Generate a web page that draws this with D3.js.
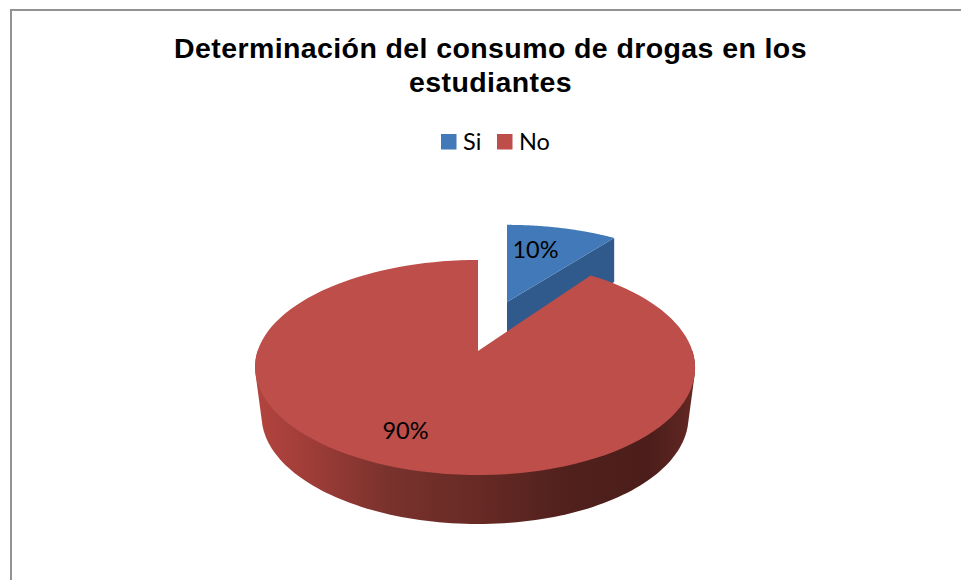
<!DOCTYPE html>
<html>
<head>
<meta charset="utf-8">
<script src="https://cdnjs.cloudflare.com/ajax/libs/d3/7.8.5/d3.min.js"></script>
<style>
  html, body { margin: 0; padding: 0; background: #fff; }
  svg { display: block; }
</style>
</head>
<body>
<svg id="chart" width="961" height="580"></svg>
<script>
const titleLines = ["Determinación del consumo de drogas en los", "estudiantes"];
const categories = ["Si", "No"];
const percentages = [10, 90];
const faceColors = ["#427ab9", "#bd4e4a"];
const wallColors = ["#30598c", "#6b2a26"];

const svg = d3.select("#chart");
const color = d3.scaleOrdinal(categories, faceColors);
const wall = d3.scaleOrdinal(categories, wallColors);
const slices = d3.pie().sort(null).value(d => d.value)(
  categories.map((name, i) => ({ name, value: percentages[i] }))
);

// Perspective projection of a unit disc lying flat: the far edge is foreshortened.
const tilt = 0.1535;
function disc(cx, cy, rx, ry, shiftX) {
  return (angle, r = 1) => {
    const u = Math.sin(angle) * r, v = Math.cos(angle) * r;
    const w = 1 + tilt * v;
    return [cx + rx * u / w - shiftX * u * u, cy - ry * v / w];
  };
}
const project = {
  No: disc(478, 351, 217.4, 105, 3),
  Si: disc(507, 302, 205, 89, 0)
};
const line = d3.line();
const arcPoints = (fn, a0, a1) =>
  d3.range(0, 121).map(i => fn(a0 + (a1 - a0) * i / 120));

// Frame of the chart area
svg.append("path")
  .attr("d", "M11,580V10H961")
  .attr("fill", "none")
  .attr("stroke", "#929292")
  .attr("stroke-width", 2);

// Title
svg.append("g").selectAll("text").data(titleLines).join("text")
  .attr("x", 490.5)
  .attr("y", (d, i) => 58 + i * 33.5)
  .attr("text-anchor", "middle")
  .attr("font-family", "'Liberation Sans', Arial, sans-serif")
  .attr("font-weight", "bold")
  .attr("font-size", 28.5)
  .attr("letter-spacing", 0.4)
  .attr("fill", "#000")
  .text(d => d);

// Legend
const legendX = [441, 497];
const legend = svg.append("g").selectAll("g").data(categories).join("g")
  .attr("transform", (d, i) => `translate(${legendX[i]},134)`);
legend.append("rect").attr("width", 15.5).attr("height", 15.5).attr("fill", d => color(d));
legend.append("text")
  .attr("x", 22)
  .attr("y", 16)
  .attr("font-family", "Lato, 'Open Sans', sans-serif")
  .attr("font-size", 23.5)
  .attr("fill", "#000")
  .text(d => d);

// Shading along the visible side of the red slice
const defs = svg.append("defs");
const shade = defs.append("linearGradient")
  .attr("id", "sideShade")
  .attr("gradientUnits", "userSpaceOnUse")
  .attr("x1", 255).attr("x2", 695).attr("y1", 0).attr("y2", 0);
[[0, "#b3443f"], [0.12, "#a03d38"], [0.3, "#7a322d"], [0.5, "#682a25"],
 [0.72, "#4f201c"], [0.9, "#4c1e1b"], [1, "#642824"]].forEach(([o, c]) =>
  shade.append("stop").attr("offset", o).attr("stop-color", c));

const [siSlice, noSlice] = slices;

// Blue slice: cut wall first, then its top face
const siRim = project.Si(siSlice.endAngle);
const siApex = [507, 302];
const siDepth = 44;
svg.append("path")
  .attr("d", line([siApex, siRim, [siRim[0], siRim[1] + siDepth], [siApex[0], siApex[1] + siDepth]]) + "Z")
  .attr("fill", wall("Si"));
svg.append("path")
  .attr("d", line([siApex, ...arcPoints(project.Si, siSlice.startAngle, siSlice.endAngle)]) + "Z")
  .attr("fill", color("Si"));

// Red slice: outer wall, then top face
const noRim = project.No;
const front = arcPoints(noRim, Math.PI / 2, Math.PI * 3 / 2);
const depth = 49;
const lower = front.map(([x, y]) => [475 + (x - 475) * 0.97, y + depth]);
svg.append("path")
  .attr("d", line(d3.polygonHull([...front, ...lower])) + "Z")
  .attr("fill", "url(#sideShade)");
svg.append("path")
  .attr("d", line([[478, 351], ...arcPoints(noRim, noSlice.startAngle, noSlice.endAngle)]) + "Z")
  .attr("fill", color("No"));

// Percentage labels
const labelAt = { Si: [535.5, 258], No: [405.5, 439] };
svg.append("g").selectAll("text").data(slices).join("text")
  .attr("x", d => labelAt[d.data.name][0])
  .attr("y", d => labelAt[d.data.name][1])
  .attr("text-anchor", "middle")
  .attr("font-family", "Lato, 'Open Sans', sans-serif")
  .attr("font-size", 23.5)
  .attr("fill", "#000")
  .text(d => d.data.value + "%");
</script>
</body>
</html>
